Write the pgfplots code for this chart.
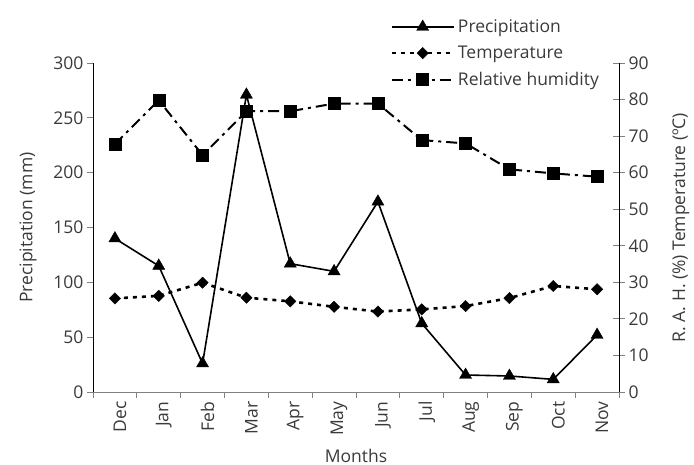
\documentclass[border=0pt]{standalone}
\usepackage{fontspec}
\setmainfont{Open Sans}
\usepackage{pgfplots}
\pgfplotsset{compat=1.18}
\definecolor{txt}{HTML}{3A3A3A}
\definecolor{xax}{HTML}{808080}
\begin{document}
\begin{tikzpicture}[font=\fontsize{17.5}{20}\selectfont]
\pgfplotsset{
  precip/.style={black, line width=1.6pt, mark=triangle*, mark size=7pt, mark options={solid, line width=0.4pt}},
  temp/.style={black, line width=2.6pt, dash pattern=on 4pt off 5pt, mark=square*, mark size=4pt, mark options={solid, rotate=45, line width=0.4pt}},
  hum/.style={black, line width=2pt, dash pattern=on 11pt off 5pt on 3pt off 5pt, mark=square*, mark size=6pt, mark options={solid, line width=0.4pt}},
  base/.style={width=526pt, height=329pt, scale only axis, xmin=0.5, xmax=12.5,
    tick label style={text=txt}, label style={text=txt}, clip=false,
    /pgf/number format/assume math mode=true},
}
\begin{axis}[base, ymin=0, ymax=300, ytick={0,50,...,300},
  axis y line*=left, axis x line*=bottom, tick align=outside,
  x axis line style={draw=xax, line width=0.8pt}, y axis line style={line width=0.8pt},
  xtick={1,...,12}, xticklabels={Dec,Jan,Feb,Mar,Apr,May,Jun,Jul,Aug,Sep,Oct,Nov},
  x tick label style={rotate=90, anchor=east, yshift=-5pt},
  major x tick style={draw=none},
  minor xtick={0.5,1.5,...,12.5}, minor x tick style={draw=xax, line width=0.8pt},
  ytick style={line width=0.8pt},
  major tick length=6pt, minor tick length=6pt,
  xlabel={Months}, ylabel={Precipitation (mm)},
  xlabel style={yshift=-6pt}, ylabel style={yshift=10pt}]
\addplot[precip] coordinates {(1,140) (2,115) (3,26) (4,271) (5,117) (6,110) (7,173.5) (8,62.6) (9,15.5) (10,14.6) (11,11.5) (12,52)};
\coordinate (sw) at (rel axis cs:0,0);
\coordinate (ne) at (rel axis cs:1,1);
\end{axis}
\begin{axis}[base, ymin=0, ymax=90, ytick={0,10,...,90},
  axis y line*=right, axis x line=none, tick align=center,
  y axis line style={line width=0.8pt}, ytick style={line width=0.8pt},
  major tick length=12pt,
  ylabel={R. A. H. (\%) Temperature (ºC)}, ylabel style={yshift=-17pt},
  legend style={at={(0.565,1.138)}, anchor=north west, draw=none, fill=none,
    inner sep=0pt, row sep=8pt, text=txt, nodes={inner xsep=3pt}},
  legend cell align=left,
  legend image code/.code={\draw[#1, mark repeat=2, mark phase=2] plot coordinates {(0pt,0pt) (31pt,0pt) (62pt,0pt)};}]
\addlegendimage{precip}
\addlegendentry{Precipitation}
\addplot[temp] coordinates {(1,25.6) (2,26.3) (3,29.9) (4,25.8) (5,24.8) (6,23.3) (7,22.0) (8,22.6) (9,23.5) (10,25.7) (11,29.0) (12,28.1)};
\addlegendentry{Temperature}
\addplot[hum] coordinates {(1,67.8) (2,79.8) (3,64.8) (4,76.8) (5,76.8) (6,78.9) (7,78.9) (8,68.9) (9,68.0) (10,60.9) (11,59.8) (12,58.9)};
\addlegendentry{Relative humidity}
\end{axis}
\pgfresetboundingbox
\path[use as bounding box] ([shift={(-93pt,-73pt)}]sw) rectangle ([shift={(75pt,63pt)}]ne);
\end{tikzpicture}
\end{document}
